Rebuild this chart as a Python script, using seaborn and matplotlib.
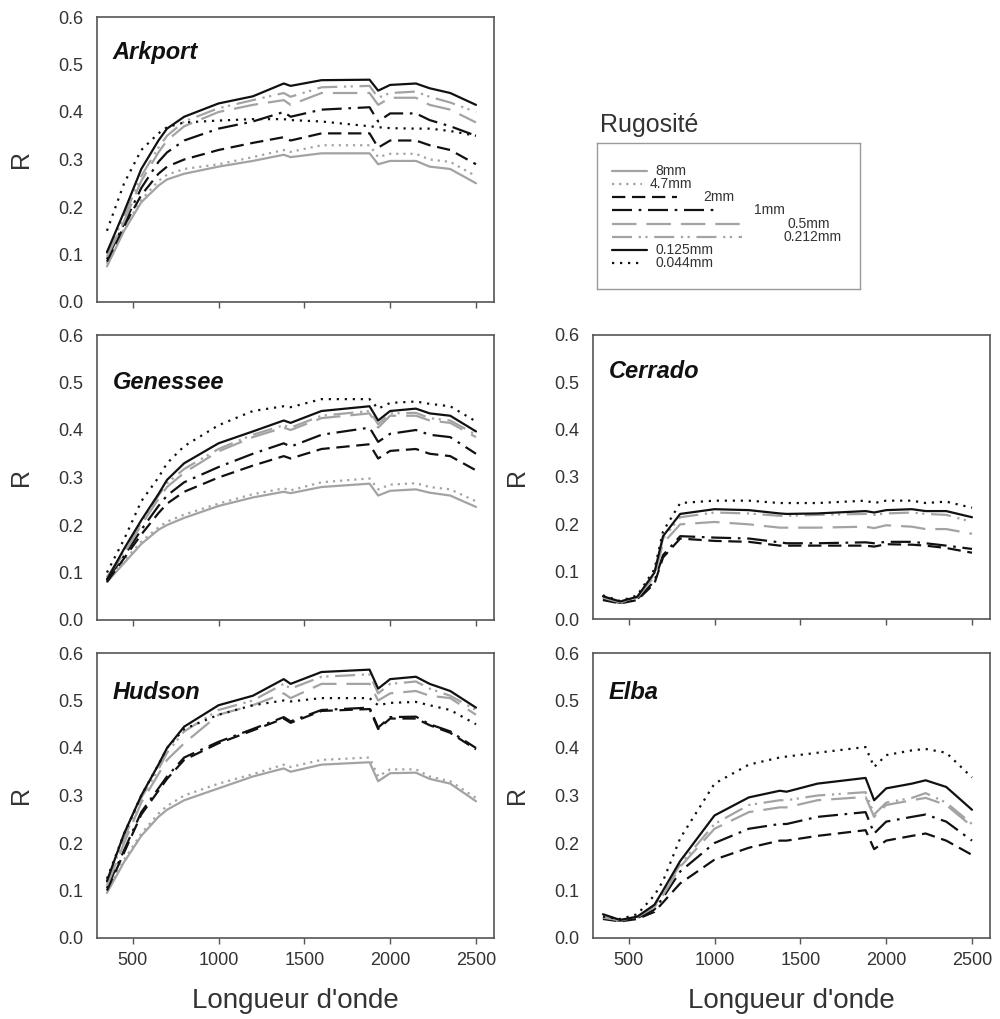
import numpy as np
import pandas as pd
import matplotlib
matplotlib.use("Agg")
import matplotlib.pyplot as plt
import seaborn as sns
from matplotlib.lines import Line2D

sns.set_theme(style="white")
plt.rcParams['font.family'] = ['Liberation Sans', 'DejaVu Sans']

# ---------------- data ----------------
wavelength = [350, 450, 550, 650, 700, 800, 1000, 1200, 1380, 1420, 1600, 1880, 1930, 2000, 2150, 2230, 2350, 2500]
sizes = ["8mm", "4.7mm", "2mm", "1mm", "0.5mm", "0.212mm", "0.125mm", "0.044mm"]

arkport_8mm   = [0.075, 0.15, 0.21, 0.245, 0.258, 0.27, 0.285, 0.297, 0.31, 0.305, 0.313, 0.313, 0.29, 0.297, 0.297, 0.285, 0.28, 0.25]
arkport_4_7mm = [0.08, 0.155, 0.215, 0.255, 0.268, 0.28, 0.29, 0.305, 0.32, 0.316, 0.33, 0.33, 0.305, 0.312, 0.312, 0.30, 0.295, 0.265]
arkport_2mm   = [0.085, 0.16, 0.225, 0.27, 0.285, 0.30, 0.32, 0.335, 0.347, 0.34, 0.355, 0.355, 0.325, 0.34, 0.34, 0.33, 0.32, 0.29]
arkport_1mm   = [0.09, 0.165, 0.24, 0.295, 0.315, 0.34, 0.365, 0.38, 0.40, 0.39, 0.405, 0.41, 0.38, 0.397, 0.397, 0.383, 0.37, 0.35]
arkport_0_5mm = [0.095, 0.17, 0.255, 0.315, 0.34, 0.37, 0.40, 0.415, 0.425, 0.415, 0.44, 0.44, 0.415, 0.43, 0.43, 0.415, 0.405, 0.378]
arkport_0_212mm = [0.10, 0.18, 0.265, 0.325, 0.35, 0.38, 0.408, 0.425, 0.44, 0.432, 0.452, 0.455, 0.43, 0.44, 0.443, 0.432, 0.42, 0.40]
arkport_0_125mm = [0.105, 0.19, 0.28, 0.34, 0.365, 0.39, 0.418, 0.433, 0.46, 0.455, 0.467, 0.468, 0.445, 0.457, 0.46, 0.45, 0.44, 0.415]
arkport_0_044mm = [0.15, 0.25, 0.32, 0.355, 0.368, 0.378, 0.382, 0.385, 0.385, 0.383, 0.38, 0.37, 0.368, 0.366, 0.365, 0.365, 0.36, 0.35]

genessee_8mm   = [0.08, 0.12, 0.16, 0.19, 0.20, 0.215, 0.24, 0.258, 0.27, 0.267, 0.28, 0.287, 0.262, 0.272, 0.275, 0.268, 0.262, 0.238]
genessee_4_7mm = [0.085, 0.125, 0.165, 0.195, 0.207, 0.222, 0.245, 0.265, 0.277, 0.273, 0.29, 0.298, 0.275, 0.285, 0.288, 0.28, 0.275, 0.25]
genessee_2mm   = [0.08, 0.13, 0.18, 0.225, 0.245, 0.27, 0.30, 0.325, 0.345, 0.34, 0.36, 0.37, 0.34, 0.356, 0.36, 0.35, 0.345, 0.315]
genessee_1mm   = [0.085, 0.135, 0.19, 0.24, 0.262, 0.29, 0.322, 0.35, 0.372, 0.365, 0.39, 0.405, 0.375, 0.392, 0.40, 0.39, 0.385, 0.35]
genessee_0_5mm = [0.09, 0.14, 0.20, 0.255, 0.28, 0.31, 0.355, 0.385, 0.405, 0.40, 0.425, 0.435, 0.405, 0.43, 0.43, 0.42, 0.415, 0.385]
genessee_0_212mm = [0.09, 0.145, 0.205, 0.262, 0.288, 0.318, 0.36, 0.39, 0.41, 0.405, 0.43, 0.44, 0.412, 0.435, 0.436, 0.425, 0.42, 0.39]
genessee_0_125mm = [0.085, 0.15, 0.21, 0.265, 0.295, 0.33, 0.372, 0.397, 0.42, 0.415, 0.44, 0.45, 0.42, 0.44, 0.445, 0.435, 0.43, 0.397]
genessee_0_044mm = [0.10, 0.17, 0.25, 0.30, 0.33, 0.366, 0.41, 0.44, 0.45, 0.448, 0.465, 0.465, 0.445, 0.457, 0.46, 0.455, 0.45, 0.418]

hudson_8mm   = [0.095, 0.16, 0.215, 0.255, 0.27, 0.29, 0.315, 0.34, 0.357, 0.35, 0.365, 0.37, 0.33, 0.347, 0.348, 0.335, 0.325, 0.288]
hudson_4_7mm = [0.10, 0.165, 0.22, 0.262, 0.278, 0.30, 0.325, 0.345, 0.365, 0.36, 0.375, 0.38, 0.34, 0.355, 0.355, 0.34, 0.33, 0.295]
hudson_2mm   = [0.10, 0.18, 0.26, 0.31, 0.335, 0.375, 0.41, 0.437, 0.462, 0.453, 0.478, 0.482, 0.44, 0.462, 0.462, 0.448, 0.432, 0.397]
hudson_1mm   = [0.105, 0.185, 0.265, 0.315, 0.34, 0.38, 0.413, 0.44, 0.465, 0.456, 0.48, 0.485, 0.443, 0.465, 0.466, 0.45, 0.435, 0.40]
hudson_0_5mm = [0.11, 0.20, 0.285, 0.345, 0.375, 0.41, 0.47, 0.49, 0.515, 0.505, 0.535, 0.535, 0.50, 0.515, 0.52, 0.51, 0.505, 0.47]
hudson_0_212mm = [0.115, 0.21, 0.295, 0.355, 0.39, 0.435, 0.48, 0.50, 0.535, 0.525, 0.55, 0.555, 0.515, 0.535, 0.54, 0.525, 0.51, 0.48]
hudson_0_125mm = [0.12, 0.22, 0.30, 0.365, 0.40, 0.445, 0.49, 0.51, 0.545, 0.535, 0.56, 0.565, 0.525, 0.545, 0.55, 0.535, 0.52, 0.485]
hudson_0_044mm = [0.125, 0.22, 0.30, 0.365, 0.40, 0.44, 0.47, 0.49, 0.50, 0.498, 0.505, 0.505, 0.49, 0.495, 0.497, 0.49, 0.48, 0.45]

cerrado_2mm   = [0.04, 0.033, 0.04, 0.075, 0.13, 0.17, 0.165, 0.163, 0.155, 0.155, 0.155, 0.155, 0.153, 0.158, 0.157, 0.155, 0.15, 0.14]
cerrado_1mm   = [0.042, 0.034, 0.042, 0.08, 0.135, 0.175, 0.172, 0.17, 0.162, 0.16, 0.16, 0.162, 0.16, 0.163, 0.163, 0.16, 0.155, 0.148]
cerrado_0_5mm = [0.045, 0.035, 0.045, 0.09, 0.16, 0.20, 0.205, 0.20, 0.193, 0.193, 0.193, 0.195, 0.192, 0.198, 0.195, 0.19, 0.19, 0.18]
cerrado_0_212mm = [0.047, 0.036, 0.046, 0.095, 0.17, 0.215, 0.225, 0.223, 0.218, 0.218, 0.22, 0.222, 0.22, 0.223, 0.225, 0.222, 0.22, 0.205]
cerrado_0_125mm = [0.048, 0.037, 0.047, 0.098, 0.175, 0.222, 0.232, 0.23, 0.223, 0.222, 0.223, 0.228, 0.225, 0.23, 0.232, 0.228, 0.228, 0.215]
cerrado_0_044mm = [0.05, 0.038, 0.05, 0.105, 0.185, 0.245, 0.25, 0.25, 0.245, 0.245, 0.245, 0.25, 0.245, 0.25, 0.25, 0.245, 0.248, 0.235]

elba_2mm   = [0.04, 0.035, 0.04, 0.055, 0.075, 0.115, 0.165, 0.19, 0.205, 0.205, 0.215, 0.227, 0.187, 0.205, 0.215, 0.22, 0.205, 0.175]
elba_1mm   = [0.042, 0.036, 0.042, 0.06, 0.085, 0.14, 0.20, 0.23, 0.24, 0.24, 0.255, 0.265, 0.22, 0.245, 0.255, 0.26, 0.245, 0.205]
elba_0_5mm = [0.043, 0.037, 0.044, 0.065, 0.09, 0.15, 0.23, 0.265, 0.275, 0.275, 0.29, 0.297, 0.255, 0.28, 0.29, 0.295, 0.28, 0.235]
elba_0_212mm = [0.044, 0.038, 0.045, 0.068, 0.095, 0.155, 0.24, 0.28, 0.29, 0.29, 0.30, 0.307, 0.26, 0.285, 0.295, 0.305, 0.285, 0.24]
elba_0_125mm = [0.05, 0.038, 0.045, 0.07, 0.10, 0.162, 0.258, 0.296, 0.31, 0.308, 0.325, 0.337, 0.29, 0.315, 0.325, 0.332, 0.318, 0.27]
elba_0_044mm = [0.045, 0.04, 0.05, 0.09, 0.12, 0.21, 0.325, 0.365, 0.38, 0.382, 0.39, 0.402, 0.36, 0.385, 0.395, 0.398, 0.39, 0.338]

panels = {
    "Arkport": {"8mm": arkport_8mm, "4.7mm": arkport_4_7mm, "2mm": arkport_2mm, "1mm": arkport_1mm,
                "0.5mm": arkport_0_5mm, "0.212mm": arkport_0_212mm, "0.125mm": arkport_0_125mm, "0.044mm": arkport_0_044mm},
    "Genessee": {"8mm": genessee_8mm, "4.7mm": genessee_4_7mm, "2mm": genessee_2mm, "1mm": genessee_1mm,
                 "0.5mm": genessee_0_5mm, "0.212mm": genessee_0_212mm, "0.125mm": genessee_0_125mm, "0.044mm": genessee_0_044mm},
    "Hudson": {"8mm": hudson_8mm, "4.7mm": hudson_4_7mm, "2mm": hudson_2mm, "1mm": hudson_1mm,
               "0.5mm": hudson_0_5mm, "0.212mm": hudson_0_212mm, "0.125mm": hudson_0_125mm, "0.044mm": hudson_0_044mm},
    "Cerrado": {"2mm": cerrado_2mm, "1mm": cerrado_1mm, "0.5mm": cerrado_0_5mm, "0.212mm": cerrado_0_212mm,
                "0.125mm": cerrado_0_125mm, "0.044mm": cerrado_0_044mm},
    "Elba": {"2mm": elba_2mm, "1mm": elba_1mm, "0.5mm": elba_0_5mm, "0.212mm": elba_0_212mm,
             "0.125mm": elba_0_125mm, "0.044mm": elba_0_044mm},
}

# ---------------- styles ----------------
GRAY = "#a3a3a3"
BLACK = "#111111"
palette = {"8mm": GRAY, "4.7mm": GRAY, "2mm": BLACK, "1mm": BLACK,
           "0.5mm": GRAY, "0.212mm": GRAY, "0.125mm": BLACK, "0.044mm": BLACK}
dashes = {"8mm": "", "4.7mm": (1, 2.2), "2mm": (6, 3), "1mm": (9, 3, 1.2, 3),
          "0.5mm": (11, 4.5), "0.212mm": (9, 3, 1, 2, 1, 3), "0.125mm": "", "0.044mm": (1, 2.6)}

W, H = 1000, 1019
fig = plt.figure(figsize=(W / 100, H / 100), dpi=100)

def fax(x0, y_top, x1, y_bot):
    return fig.add_axes([x0 / W, 1 - y_bot / H, (x1 - x0) / W, (y_bot - y_top) / H])

layout = {
    "Arkport": (97, 17, 494, 302, False, 0.874),
    "Genessee": (97, 335, 494, 620, False, 0.832),
    "Hudson": (97, 653, 494, 938, True, 0.863),
    "Cerrado": (593, 335, 990, 619, False, 0.87),
    "Elba": (593, 653, 990, 938, True, 0.863),
}

SPINE = "#555555"
TXT = "#333333"
for name, (x0, yt, x1, yb, show_x, ty) in layout.items():
    ax = fax(x0, yt, x1, yb)
    rows = []
    for s, vals in panels[name].items():
        for w, v in zip(wavelength, vals):
            rows.append((w, v, s))
    df = pd.DataFrame(rows, columns=["wl", "R", "size"])
    order = [s for s in sizes if s in panels[name]]
    sns.lineplot(data=df, x="wl", y="R", hue="size", style="size", hue_order=order, style_order=order,
                 palette=palette, dashes=dashes, linewidth=1.6, legend=False, ax=ax)
    ax.set_xlim(292, 2605)
    ax.set_ylim(0, 0.6)
    ax.set_xticks([500, 1000, 1500, 2000, 2500])
    ax.set_yticks([0.0, 0.1, 0.2, 0.3, 0.4, 0.5, 0.6])
    ax.set_yticklabels([f"{v:.1f}" for v in ax.get_yticks()])
    ax.tick_params(axis="both", direction="out", length=4, width=1, color=SPINE,
                   labelsize=13, labelcolor=TXT, pad=5)
    ax.tick_params(axis="y", length=3, pad=7)
    ax.tick_params(axis="x", bottom=True, pad=6)
    if show_x:
        ax.set_xlabel("Longueur d'onde", fontsize=20, color=TXT, labelpad=14)
    else:
        ax.set_xticklabels([])
        ax.set_xlabel("")
    ax.set_ylabel("R", fontsize=18, color=TXT, labelpad=18)
    for sp in ax.spines.values():
        sp.set_visible(True)
        sp.set_color(SPINE)
        sp.set_linewidth(1.2)
    ax.text(0.04, ty, name, transform=ax.transAxes, fontsize=17, fontweight="bold",
            fontstyle="italic", color=BLACK, va="center", ha="left")

# ---------------- legend ----------------
lx0, ly0, lx1, ly1 = 597, 143, 860, 289
lax = fax(lx0, ly0, lx1, ly1)
lax.set_xlim(lx0, lx1)
lax.set_ylim(ly1, ly0)
lax.set_xticks([])
lax.set_yticks([])
for sp in lax.spines.values():
    sp.set_color("#9a9a9a")
    sp.set_linewidth(1.0)
fig.text(600 / W, 1 - 125 / H, "Rugosité", fontsize=18, color=TXT, ha="left", va="center")

leg_y = [171, 184, 197, 210, 224, 237, 250, 263]
leg_end = [647, 642, 677, 717, 740, 742, 647, 642]
leg_txt = [655, 650, 703, 754, 787, 783, 655, 655]
for s, y, xe, xt in zip(sizes, leg_y, leg_end, leg_txt):
    ln = Line2D([612, xe], [y, y], color=palette[s], linewidth=1.6)
    if dashes[s] != "":
        ln.set_dashes(dashes[s])
    lax.add_line(ln)
    lax.text(xt, y, s, fontsize=10, color=TXT, va="center", ha="left",
             family=['Liberation Sans Narrow', 'Liberation Sans', 'DejaVu Sans'])

fig.savefig("out.png", dpi=100, facecolor="white")
